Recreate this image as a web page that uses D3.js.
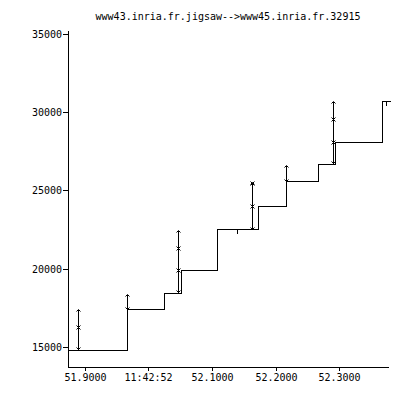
<!DOCTYPE html>
<html lang="en">
<head>
  <meta charset="UTF-8">
  <title>Time sequence graph</title>
  <script src="https://d3js.org/d3.v7.min.js"></script>
  <style>
      body {
          margin: 0;
          padding: 0;
          background: #fff;
          overflow: hidden;
      }
      svg {
          display: block;
          font-family: "DejaVu Sans Mono", monospace;
      }
      .axis text {
          font-family: "DejaVu Sans Mono", monospace;
          font-size: 10px;
          fill: #000;
      }
  </style>
</head>
<body>
  <svg width="397" height="397"></svg>
  <script>
      // Ack line (step), time in seconds, sequence number
      const ackTimes = [51.8735, 51.9663, 52.0246, 52.0513, 52.1079, 52.1725, 52.2165, 52.2669, 52.2936, 52.3676, 52.3802];
      const ackSeqs  = [14788, 17413, 18437, 19910, 22535, 24007, 25608, 26696, 28105, 30730, 30730];

      // Data segments sent: time, low seq, high seq
      const segTimes = [51.8892, 51.9663, 52.0466, 52.1626, 52.2165, 52.2905];
      const segLow   = [14850, 17413, 18501, 22535, 25608, 26760];
      const segHigh  = [17413, 18373, 22471, 25544, 26632, 30730];

      // "x" marks
      const markTimes = [51.8892, 52.0466, 52.0466, 52.1626, 52.1626, 52.2905, 52.2905];
      const markSeqs  = [16261, 19910, 21318, 24007, 25480, 28105, 29577];

      // small ticks hanging under the ack line
      const tickTimes = [52.1394, 52.3739];
      const tickSeqs  = [22535, 30730];

      const xTickValues = [51.9, 52.0, 52.1, 52.2, 52.3];
      const xTickLabels = ["51.9000", "11:42:52", "52.1000", "52.2000", "52.3000"];
      const yTickValues = [15000, 20000, 25000, 30000, 35000];

      const title = "www43.inria.fr.jigsaw-->www45.inria.fr.32915";

      const svg = d3.select("svg");
      const plotLeft = 68, plotRight = 388, plotTop = 30, plotBottom = 367;

      const x = d3.scaleLinear().domain([51.8735, 52.3768]).rangeRound([plotLeft, plotRight]);
      const y = d3.scaleLinear().domain([13700, 35275]).rangeRound([plotBottom, plotTop]);

      // title
      svg.append("text")
          .attr("x", (plotLeft + plotRight) / 2)
          .attr("y", 20)
          .attr("text-anchor", "middle")
          .attr("font-size", "10px")
          .attr("fill", "#000")
          .text(title);

      // axes
      svg.append("g")
          .attr("class", "axis")
          .attr("transform", `translate(${plotLeft},0)`)
          .call(d3.axisLeft(y).tickValues(yTickValues).tickFormat(d => d)
              .tickSize(5).tickSizeOuter(0).tickPadding(1))
          .call(g => g.select(".domain").attr("shape-rendering", "crispEdges"))
          .call(g => g.selectAll("line").attr("shape-rendering", "crispEdges"));

      svg.append("g")
          .attr("class", "axis")
          .attr("transform", `translate(0,${plotBottom})`)
          .call(d3.axisBottom(x).tickValues(xTickValues).tickFormat((d, i) => xTickLabels[i])
              .tickSize(4).tickSizeOuter(0).tickPadding(3))
          .call(g => g.select(".domain").attr("shape-rendering", "crispEdges"))
          .call(g => g.selectAll("line").attr("shape-rendering", "crispEdges"));

      const plot = svg.append("g")
          .attr("transform", "translate(0.5,0.5)")
          .attr("fill", "none")
          .attr("stroke", "#000")
          .attr("stroke-width", 1);

      // ack step line
      const ackData = ackTimes.map((t, i) => [t, ackSeqs[i]]);
      plot.append("path")
          .datum(ackData)
          .attr("shape-rendering", "crispEdges")
          .attr("d", d3.line().x(d => x(d[0])).y(d => y(d[1])).curve(d3.curveStepAfter));

      // segments with arrowheads
      const segs = plot.selectAll(".seg")
          .data(segTimes.map((t, i) => ({ t, lo: segLow[i], hi: segHigh[i] })))
          .join("g")
          .attr("class", "seg");

      segs.append("line")
          .attr("shape-rendering", "crispEdges")
          .attr("x1", d => x(d.t)).attr("x2", d => x(d.t))
          .attr("y1", d => y(d.lo)).attr("y2", d => y(d.hi));

      segs.append("path")
          .attr("d", d => {
              const cx = x(d.t), yt = y(d.hi), yb = y(d.lo);
              return `M${cx - 2},${yt + 2}L${cx},${yt}L${cx + 2},${yt + 2}` +
                     `M${cx - 2},${yb - 2}L${cx},${yb}L${cx + 2},${yb - 2}`;
          });

      // x marks
      plot.selectAll(".mark")
          .data(markTimes.map((t, i) => [t, markSeqs[i]]))
          .join("path")
          .attr("class", "mark")
          .attr("d", d => {
              const cx = x(d[0]), cy = y(d[1]);
              return `M${cx - 2},${cy - 2}L${cx + 2},${cy + 2}M${cx + 2},${cy - 2}L${cx - 2},${cy + 2}`;
          });

      // small down ticks
      plot.selectAll(".tick-down")
          .data(tickTimes.map((t, i) => [t, tickSeqs[i]]))
          .join("line")
          .attr("class", "tick-down")
          .attr("shape-rendering", "crispEdges")
          .attr("x1", d => x(d[0])).attr("x2", d => x(d[0]))
          .attr("y1", d => y(d[1])).attr("y2", d => y(d[1]) + 4);
  </script>
</body>
</html>
